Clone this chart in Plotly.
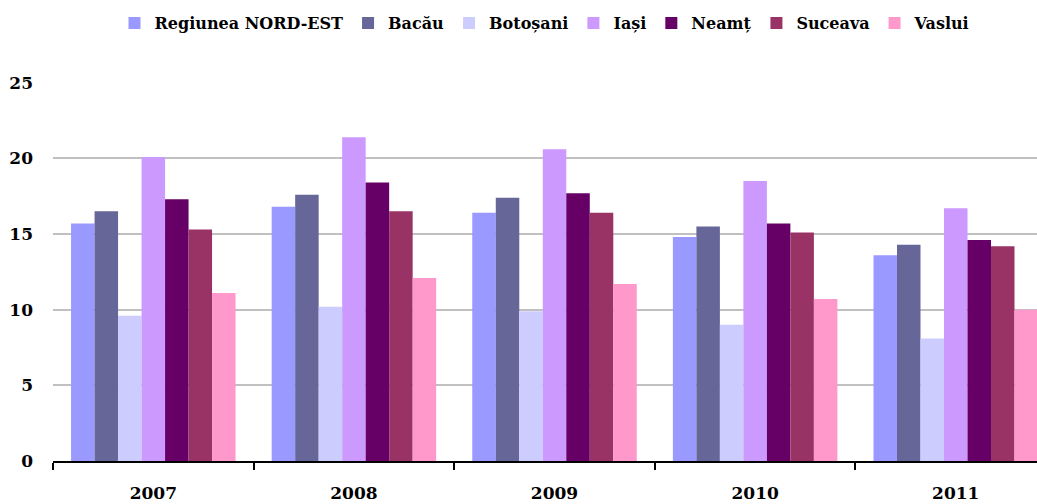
import plotly.graph_objects as go

# Years on the category axis
years = ["2007", "2008", "2009", "2010", "2011"]

# One list per county / region
regiunea = [15.7, 16.8, 16.4, 14.8, 13.6]
bacau = [16.5, 17.6, 17.4, 15.5, 14.3]
botosani = [9.6, 10.2, 9.9, 9.0, 8.1]
iasi = [20.1, 21.4, 20.6, 18.5, 16.7]
neamt = [17.3, 18.4, 17.7, 15.7, 14.6]
suceava = [15.3, 16.5, 16.4, 15.1, 14.2]
vaslui = [11.1, 12.1, 11.7, 10.7, 10.0]

series = [
    ("Regiunea NORD-EST", regiunea, "#9999FF"),
    ("Bacău", bacau, "#666699"),
    ("Botoșani", botosani, "#CCCCFF"),
    ("Iași", iasi, "#CC99FF"),
    ("Neamț", neamt, "#660066"),
    ("Suceava", suceava, "#993366"),
    ("Vaslui", vaslui, "#FF99CC"),
]

font_family = "DejaVu Serif"

fig = go.Figure()
for name, vals, color in series:
    fig.add_trace(go.Bar(x=years, y=vals, name=name,
                         marker=dict(color=color, line=dict(width=0))))

fig.update_layout(
    width=1037, height=504,
    barmode="group", bargap=0.18, bargroupgap=0,
    plot_bgcolor="white", paper_bgcolor="white",
    # fixed margins so the legend doesn't push the plot area down
    margin=dict(l=53, r=0, t=82, b=43, autoexpand=False),
    font=dict(family=font_family, size=17, color="black", weight="bold"),
    legend=dict(orientation="h", x=0.5, xanchor="center",
                yref="container", y=1 - 23 / 504, yanchor="middle",
                font=dict(size=16, weight="bold"), traceorder="normal",
                itemwidth=30),
    showlegend=True,
)

fig.update_xaxes(
    type="category", range=[-0.5, 4.405],
    showline=True, linecolor="black", linewidth=2,
    ticks="outside", tickson="boundaries", ticklen=7, tickwidth=2, tickcolor="black",
    ticklabelstandoff=16,
    tickfont=dict(size=17, weight="bold"),
    showgrid=False,
)
fig.update_yaxes(
    range=[0, 25.05], tickvals=[0, 5, 10, 15, 20, 25],
    showgrid=True, gridcolor="#C0C0C0", gridwidth=2,
    showline=False, zeroline=False, ticks="",
    ticklabelstandoff=19,
    tickfont=dict(size=17, weight="bold"),
)

# drop the browser's default 8px body margin so the figure fills the window
fig.write_html("out.html", config={"displayModeBar": False},
               post_script="document.body.style.margin='0';")
